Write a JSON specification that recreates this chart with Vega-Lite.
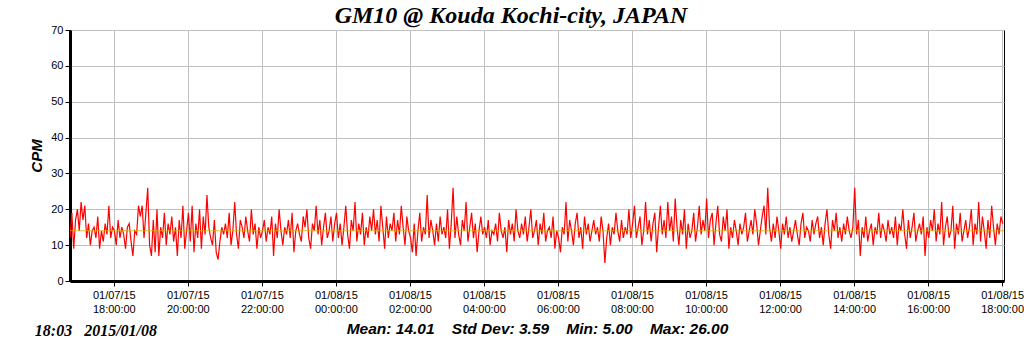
{
  "$schema": "https://vega.github.io/schema/vega-lite/v6.json",
  "width": 934,
  "height": 251,
  "autosize": {"type": "none"},
  "padding": {"left": 70, "top": 30, "right": 20, "bottom": 70},
  "background": "white",
  "config": {
    "view": {"stroke": "black", "strokeWidth": 1},
    "axis": {"labelFont": "Liberation Sans", "labelFontSize": 11, "labelColor": "black", "titleFont": "Liberation Sans", "titleFontStyle": "italic", "titleFontWeight": "bold", "titleColor": "black", "grid": true, "gridColor": "#c0c0c0", "gridWidth": 1, "domainColor": "black", "domainWidth": 3, "tickColor": "black", "tickSize": 5, "tickWidth": 1, "labelOverlap": false}
  },
  "title": {"text": "GM10 @ Kouda Kochi-city, JAPAN", "font": "Liberation Serif", "fontSize": 24, "fontStyle": "italic", "fontWeight": "bold", "color": "black", "anchor": "middle", "dx": -26, "offset": -4},
  "layer": [
    {"data": {"values": [
{"t":"2015-01-07T16:49","v":12},{"t":"2015-01-07T16:52","v":19},{"t":"2015-01-07T16:55","v":9},{"t":"2015-01-07T16:58","v":17},
{"t":"2015-01-07T17:01","v":20},{"t":"2015-01-07T17:04","v":14},{"t":"2015-01-07T17:07","v":22},{"t":"2015-01-07T17:10","v":17},{"t":"2015-01-07T17:13","v":21},{"t":"2015-01-07T17:16","v":12},{"t":"2015-01-07T17:19","v":16},{"t":"2015-01-07T17:22","v":10},{"t":"2015-01-07T17:25","v":14},{"t":"2015-01-07T17:28","v":15},{"t":"2015-01-07T17:31","v":12},{"t":"2015-01-07T17:34","v":18},{"t":"2015-01-07T17:37","v":9},{"t":"2015-01-07T17:40","v":14},{"t":"2015-01-07T17:43","v":11},{"t":"2015-01-07T17:46","v":16},{"t":"2015-01-07T17:49","v":13},{"t":"2015-01-07T17:52","v":21},{"t":"2015-01-07T17:55","v":12},{"t":"2015-01-07T17:58","v":15},
{"t":"2015-01-07T18:01","v":14},{"t":"2015-01-07T18:04","v":10},{"t":"2015-01-07T18:07","v":17},{"t":"2015-01-07T18:10","v":12},{"t":"2015-01-07T18:13","v":15},{"t":"2015-01-07T18:16","v":13},{"t":"2015-01-07T18:19","v":9},{"t":"2015-01-07T18:22","v":15},{"t":"2015-01-07T18:25","v":16},{"t":"2015-01-07T18:28","v":11},{"t":"2015-01-07T18:31","v":7},{"t":"2015-01-07T18:34","v":14},{"t":"2015-01-07T18:37","v":13},{"t":"2015-01-07T18:40","v":21},{"t":"2015-01-07T18:43","v":18},{"t":"2015-01-07T18:46","v":21},{"t":"2015-01-07T18:49","v":12},{"t":"2015-01-07T18:52","v":19},{"t":"2015-01-07T18:55","v":26},{"t":"2015-01-07T18:58","v":10},
{"t":"2015-01-07T19:01","v":7},{"t":"2015-01-07T19:04","v":17},{"t":"2015-01-07T19:07","v":8},{"t":"2015-01-07T19:10","v":20},{"t":"2015-01-07T19:13","v":7},{"t":"2015-01-07T19:16","v":15},{"t":"2015-01-07T19:19","v":12},{"t":"2015-01-07T19:22","v":19},{"t":"2015-01-07T19:25","v":10},{"t":"2015-01-07T19:28","v":16},{"t":"2015-01-07T19:31","v":13},{"t":"2015-01-07T19:34","v":18},{"t":"2015-01-07T19:37","v":11},{"t":"2015-01-07T19:40","v":15},{"t":"2015-01-07T19:43","v":7},{"t":"2015-01-07T19:46","v":17},{"t":"2015-01-07T19:49","v":12},{"t":"2015-01-07T19:52","v":21},{"t":"2015-01-07T19:55","v":9},{"t":"2015-01-07T19:58","v":14},
{"t":"2015-01-07T20:01","v":19},{"t":"2015-01-07T20:04","v":11},{"t":"2015-01-07T20:07","v":21},{"t":"2015-01-07T20:10","v":8},{"t":"2015-01-07T20:13","v":16},{"t":"2015-01-07T20:16","v":12},{"t":"2015-01-07T20:19","v":20},{"t":"2015-01-07T20:22","v":9},{"t":"2015-01-07T20:25","v":18},{"t":"2015-01-07T20:28","v":13},{"t":"2015-01-07T20:31","v":24},{"t":"2015-01-07T20:34","v":15},{"t":"2015-01-07T20:37","v":12},{"t":"2015-01-07T20:40","v":10},{"t":"2015-01-07T20:43","v":17},{"t":"2015-01-07T20:46","v":8},{"t":"2015-01-07T20:49","v":6},{"t":"2015-01-07T20:52","v":11},{"t":"2015-01-07T20:55","v":15},{"t":"2015-01-07T20:58","v":13},
{"t":"2015-01-07T21:01","v":16},{"t":"2015-01-07T21:04","v":12},{"t":"2015-01-07T21:07","v":19},{"t":"2015-01-07T21:10","v":10},{"t":"2015-01-07T21:13","v":14},{"t":"2015-01-07T21:16","v":22},{"t":"2015-01-07T21:19","v":13},{"t":"2015-01-07T21:22","v":9},{"t":"2015-01-07T21:25","v":17},{"t":"2015-01-07T21:28","v":15},{"t":"2015-01-07T21:31","v":12},{"t":"2015-01-07T21:34","v":18},{"t":"2015-01-07T21:37","v":14},{"t":"2015-01-07T21:40","v":11},{"t":"2015-01-07T21:43","v":20},{"t":"2015-01-07T21:46","v":13},{"t":"2015-01-07T21:49","v":16},{"t":"2015-01-07T21:52","v":9},{"t":"2015-01-07T21:55","v":15},{"t":"2015-01-07T21:58","v":12},
{"t":"2015-01-07T22:01","v":14},{"t":"2015-01-07T22:04","v":17},{"t":"2015-01-07T22:07","v":11},{"t":"2015-01-07T22:10","v":15},{"t":"2015-01-07T22:13","v":13},{"t":"2015-01-07T22:16","v":18},{"t":"2015-01-07T22:19","v":7},{"t":"2015-01-07T22:22","v":16},{"t":"2015-01-07T22:25","v":12},{"t":"2015-01-07T22:28","v":20},{"t":"2015-01-07T22:31","v":14},{"t":"2015-01-07T22:34","v":10},{"t":"2015-01-07T22:37","v":15},{"t":"2015-01-07T22:40","v":13},{"t":"2015-01-07T22:43","v":17},{"t":"2015-01-07T22:46","v":12},{"t":"2015-01-07T22:49","v":19},{"t":"2015-01-07T22:52","v":8},{"t":"2015-01-07T22:55","v":14},{"t":"2015-01-07T22:58","v":16},
{"t":"2015-01-07T23:01","v":13},{"t":"2015-01-07T23:04","v":11},{"t":"2015-01-07T23:07","v":18},{"t":"2015-01-07T23:10","v":15},{"t":"2015-01-07T23:13","v":20},{"t":"2015-01-07T23:16","v":12},{"t":"2015-01-07T23:19","v":9},{"t":"2015-01-07T23:22","v":16},{"t":"2015-01-07T23:25","v":14},{"t":"2015-01-07T23:28","v":21},{"t":"2015-01-07T23:31","v":13},{"t":"2015-01-07T23:34","v":17},{"t":"2015-01-07T23:37","v":10},{"t":"2015-01-07T23:40","v":15},{"t":"2015-01-07T23:43","v":19},{"t":"2015-01-07T23:46","v":12},{"t":"2015-01-07T23:49","v":14},{"t":"2015-01-07T23:52","v":18},{"t":"2015-01-07T23:55","v":11},{"t":"2015-01-07T23:58","v":16},
{"t":"2015-01-08T00:01","v":19},{"t":"2015-01-08T00:04","v":12},{"t":"2015-01-08T00:07","v":16},{"t":"2015-01-08T00:10","v":10},{"t":"2015-01-08T00:13","v":15},{"t":"2015-01-08T00:16","v":21},{"t":"2015-01-08T00:19","v":13},{"t":"2015-01-08T00:22","v":9},{"t":"2015-01-08T00:25","v":17},{"t":"2015-01-08T00:28","v":14},{"t":"2015-01-08T00:31","v":22},{"t":"2015-01-08T00:34","v":11},{"t":"2015-01-08T00:37","v":16},{"t":"2015-01-08T00:40","v":13},{"t":"2015-01-08T00:43","v":19},{"t":"2015-01-08T00:46","v":10},{"t":"2015-01-08T00:49","v":15},{"t":"2015-01-08T00:52","v":12},{"t":"2015-01-08T00:55","v":18},{"t":"2015-01-08T00:58","v":14},
{"t":"2015-01-08T01:01","v":20},{"t":"2015-01-08T01:04","v":13},{"t":"2015-01-08T01:07","v":17},{"t":"2015-01-08T01:10","v":11},{"t":"2015-01-08T01:13","v":21},{"t":"2015-01-08T01:16","v":15},{"t":"2015-01-08T01:19","v":9},{"t":"2015-01-08T01:22","v":18},{"t":"2015-01-08T01:25","v":12},{"t":"2015-01-08T01:28","v":16},{"t":"2015-01-08T01:31","v":14},{"t":"2015-01-08T01:34","v":19},{"t":"2015-01-08T01:37","v":11},{"t":"2015-01-08T01:40","v":17},{"t":"2015-01-08T01:43","v":13},{"t":"2015-01-08T01:46","v":21},{"t":"2015-01-08T01:49","v":15},{"t":"2015-01-08T01:52","v":10},{"t":"2015-01-08T01:55","v":18},{"t":"2015-01-08T01:58","v":14},
{"t":"2015-01-08T02:01","v":12},{"t":"2015-01-08T02:04","v":8},{"t":"2015-01-08T02:07","v":16},{"t":"2015-01-08T02:10","v":7},{"t":"2015-01-08T02:13","v":14},{"t":"2015-01-08T02:16","v":19},{"t":"2015-01-08T02:19","v":11},{"t":"2015-01-08T02:22","v":15},{"t":"2015-01-08T02:25","v":13},{"t":"2015-01-08T02:28","v":24},{"t":"2015-01-08T02:31","v":12},{"t":"2015-01-08T02:34","v":17},{"t":"2015-01-08T02:37","v":14},{"t":"2015-01-08T02:40","v":10},{"t":"2015-01-08T02:43","v":16},{"t":"2015-01-08T02:46","v":11},{"t":"2015-01-08T02:49","v":18},{"t":"2015-01-08T02:52","v":13},{"t":"2015-01-08T02:55","v":15},{"t":"2015-01-08T02:58","v":12},
{"t":"2015-01-08T03:01","v":20},{"t":"2015-01-08T03:04","v":9},{"t":"2015-01-08T03:07","v":16},{"t":"2015-01-08T03:10","v":26},{"t":"2015-01-08T03:13","v":12},{"t":"2015-01-08T03:16","v":18},{"t":"2015-01-08T03:19","v":13},{"t":"2015-01-08T03:22","v":10},{"t":"2015-01-08T03:25","v":17},{"t":"2015-01-08T03:28","v":14},{"t":"2015-01-08T03:31","v":22},{"t":"2015-01-08T03:34","v":11},{"t":"2015-01-08T03:37","v":15},{"t":"2015-01-08T03:40","v":19},{"t":"2015-01-08T03:43","v":12},{"t":"2015-01-08T03:46","v":16},{"t":"2015-01-08T03:49","v":8},{"t":"2015-01-08T03:52","v":14},{"t":"2015-01-08T03:55","v":18},{"t":"2015-01-08T03:58","v":13},
{"t":"2015-01-08T04:01","v":15},{"t":"2015-01-08T04:04","v":12},{"t":"2015-01-08T04:07","v":17},{"t":"2015-01-08T04:10","v":10},{"t":"2015-01-08T04:13","v":14},{"t":"2015-01-08T04:16","v":13},{"t":"2015-01-08T04:19","v":16},{"t":"2015-01-08T04:22","v":11},{"t":"2015-01-08T04:25","v":19},{"t":"2015-01-08T04:28","v":14},{"t":"2015-01-08T04:31","v":12},{"t":"2015-01-08T04:34","v":15},{"t":"2015-01-08T04:37","v":8},{"t":"2015-01-08T04:40","v":17},{"t":"2015-01-08T04:43","v":13},{"t":"2015-01-08T04:46","v":16},{"t":"2015-01-08T04:49","v":11},{"t":"2015-01-08T04:52","v":20},{"t":"2015-01-08T04:55","v":14},{"t":"2015-01-08T04:58","v":12},
{"t":"2015-01-08T05:01","v":16},{"t":"2015-01-08T05:04","v":13},{"t":"2015-01-08T05:07","v":18},{"t":"2015-01-08T05:10","v":11},{"t":"2015-01-08T05:13","v":15},{"t":"2015-01-08T05:16","v":20},{"t":"2015-01-08T05:19","v":12},{"t":"2015-01-08T05:22","v":14},{"t":"2015-01-08T05:25","v":17},{"t":"2015-01-08T05:28","v":10},{"t":"2015-01-08T05:31","v":16},{"t":"2015-01-08T05:34","v":13},{"t":"2015-01-08T05:37","v":19},{"t":"2015-01-08T05:40","v":11},{"t":"2015-01-08T05:43","v":14},{"t":"2015-01-08T05:46","v":15},{"t":"2015-01-08T05:49","v":12},{"t":"2015-01-08T05:52","v":18},{"t":"2015-01-08T05:55","v":9},{"t":"2015-01-08T05:58","v":14},
{"t":"2015-01-08T06:01","v":12},{"t":"2015-01-08T06:04","v":8},{"t":"2015-01-08T06:07","v":15},{"t":"2015-01-08T06:10","v":13},{"t":"2015-01-08T06:13","v":22},{"t":"2015-01-08T06:16","v":11},{"t":"2015-01-08T06:19","v":17},{"t":"2015-01-08T06:22","v":14},{"t":"2015-01-08T06:25","v":10},{"t":"2015-01-08T06:28","v":16},{"t":"2015-01-08T06:31","v":19},{"t":"2015-01-08T06:34","v":12},{"t":"2015-01-08T06:37","v":15},{"t":"2015-01-08T06:40","v":9},{"t":"2015-01-08T06:43","v":18},{"t":"2015-01-08T06:46","v":13},{"t":"2015-01-08T06:49","v":16},{"t":"2015-01-08T06:52","v":11},{"t":"2015-01-08T06:55","v":14},{"t":"2015-01-08T06:58","v":17},
{"t":"2015-01-08T07:01","v":13},{"t":"2015-01-08T07:04","v":15},{"t":"2015-01-08T07:07","v":11},{"t":"2015-01-08T07:10","v":18},{"t":"2015-01-08T07:13","v":14},{"t":"2015-01-08T07:16","v":5},{"t":"2015-01-08T07:19","v":12},{"t":"2015-01-08T07:22","v":16},{"t":"2015-01-08T07:25","v":10},{"t":"2015-01-08T07:28","v":15},{"t":"2015-01-08T07:31","v":13},{"t":"2015-01-08T07:34","v":19},{"t":"2015-01-08T07:37","v":14},{"t":"2015-01-08T07:40","v":11},{"t":"2015-01-08T07:43","v":17},{"t":"2015-01-08T07:46","v":12},{"t":"2015-01-08T07:49","v":15},{"t":"2015-01-08T07:52","v":13},{"t":"2015-01-08T07:55","v":20},{"t":"2015-01-08T07:58","v":12},
{"t":"2015-01-08T08:01","v":16},{"t":"2015-01-08T08:04","v":21},{"t":"2015-01-08T08:07","v":12},{"t":"2015-01-08T08:10","v":15},{"t":"2015-01-08T08:13","v":18},{"t":"2015-01-08T08:16","v":10},{"t":"2015-01-08T08:19","v":14},{"t":"2015-01-08T08:22","v":22},{"t":"2015-01-08T08:25","v":13},{"t":"2015-01-08T08:28","v":17},{"t":"2015-01-08T08:31","v":11},{"t":"2015-01-08T08:34","v":16},{"t":"2015-01-08T08:37","v":19},{"t":"2015-01-08T08:40","v":8},{"t":"2015-01-08T08:43","v":15},{"t":"2015-01-08T08:46","v":21},{"t":"2015-01-08T08:49","v":13},{"t":"2015-01-08T08:52","v":17},{"t":"2015-01-08T08:55","v":12},{"t":"2015-01-08T08:58","v":22},
{"t":"2015-01-08T09:01","v":14},{"t":"2015-01-08T09:04","v":18},{"t":"2015-01-08T09:07","v":11},{"t":"2015-01-08T09:10","v":23},{"t":"2015-01-08T09:13","v":15},{"t":"2015-01-08T09:16","v":10},{"t":"2015-01-08T09:19","v":17},{"t":"2015-01-08T09:22","v":13},{"t":"2015-01-08T09:25","v":20},{"t":"2015-01-08T09:28","v":9},{"t":"2015-01-08T09:31","v":16},{"t":"2015-01-08T09:34","v":12},{"t":"2015-01-08T09:37","v":14},{"t":"2015-01-08T09:40","v":19},{"t":"2015-01-08T09:43","v":11},{"t":"2015-01-08T09:46","v":15},{"t":"2015-01-08T09:49","v":21},{"t":"2015-01-08T09:52","v":13},{"t":"2015-01-08T09:55","v":17},{"t":"2015-01-08T09:58","v":14},
{"t":"2015-01-08T10:01","v":23},{"t":"2015-01-08T10:04","v":12},{"t":"2015-01-08T10:07","v":17},{"t":"2015-01-08T10:10","v":19},{"t":"2015-01-08T10:13","v":10},{"t":"2015-01-08T10:16","v":16},{"t":"2015-01-08T10:19","v":21},{"t":"2015-01-08T10:22","v":13},{"t":"2015-01-08T10:25","v":11},{"t":"2015-01-08T10:28","v":18},{"t":"2015-01-08T10:31","v":14},{"t":"2015-01-08T10:34","v":20},{"t":"2015-01-08T10:37","v":9},{"t":"2015-01-08T10:40","v":15},{"t":"2015-01-08T10:43","v":12},{"t":"2015-01-08T10:46","v":17},{"t":"2015-01-08T10:49","v":14},{"t":"2015-01-08T10:52","v":10},{"t":"2015-01-08T10:55","v":16},{"t":"2015-01-08T10:58","v":13},
{"t":"2015-01-08T11:01","v":15},{"t":"2015-01-08T11:04","v":19},{"t":"2015-01-08T11:07","v":11},{"t":"2015-01-08T11:10","v":14},{"t":"2015-01-08T11:13","v":17},{"t":"2015-01-08T11:16","v":13},{"t":"2015-01-08T11:19","v":20},{"t":"2015-01-08T11:22","v":16},{"t":"2015-01-08T11:25","v":10},{"t":"2015-01-08T11:28","v":14},{"t":"2015-01-08T11:31","v":18},{"t":"2015-01-08T11:34","v":21},{"t":"2015-01-08T11:37","v":13},{"t":"2015-01-08T11:40","v":26},{"t":"2015-01-08T11:43","v":15},{"t":"2015-01-08T11:46","v":11},{"t":"2015-01-08T11:49","v":16},{"t":"2015-01-08T11:52","v":12},{"t":"2015-01-08T11:55","v":18},{"t":"2015-01-08T11:58","v":14},
{"t":"2015-01-08T12:01","v":9},{"t":"2015-01-08T12:04","v":16},{"t":"2015-01-08T12:07","v":13},{"t":"2015-01-08T12:10","v":18},{"t":"2015-01-08T12:13","v":12},{"t":"2015-01-08T12:16","v":15},{"t":"2015-01-08T12:19","v":11},{"t":"2015-01-08T12:22","v":14},{"t":"2015-01-08T12:25","v":17},{"t":"2015-01-08T12:28","v":13},{"t":"2015-01-08T12:31","v":10},{"t":"2015-01-08T12:34","v":16},{"t":"2015-01-08T12:37","v":19},{"t":"2015-01-08T12:40","v":12},{"t":"2015-01-08T12:43","v":15},{"t":"2015-01-08T12:46","v":14},{"t":"2015-01-08T12:49","v":11},{"t":"2015-01-08T12:52","v":17},{"t":"2015-01-08T12:55","v":13},{"t":"2015-01-08T12:58","v":16},
{"t":"2015-01-08T13:01","v":18},{"t":"2015-01-08T13:04","v":12},{"t":"2015-01-08T13:07","v":15},{"t":"2015-01-08T13:10","v":10},{"t":"2015-01-08T13:13","v":16},{"t":"2015-01-08T13:16","v":20},{"t":"2015-01-08T13:19","v":13},{"t":"2015-01-08T13:22","v":9},{"t":"2015-01-08T13:25","v":17},{"t":"2015-01-08T13:28","v":14},{"t":"2015-01-08T13:31","v":19},{"t":"2015-01-08T13:34","v":12},{"t":"2015-01-08T13:37","v":15},{"t":"2015-01-08T13:40","v":11},{"t":"2015-01-08T13:43","v":16},{"t":"2015-01-08T13:46","v":13},{"t":"2015-01-08T13:49","v":18},{"t":"2015-01-08T13:52","v":14},{"t":"2015-01-08T13:55","v":12},{"t":"2015-01-08T13:58","v":15},
{"t":"2015-01-08T14:01","v":26},{"t":"2015-01-08T14:04","v":13},{"t":"2015-01-08T14:07","v":17},{"t":"2015-01-08T14:10","v":7},{"t":"2015-01-08T14:13","v":15},{"t":"2015-01-08T14:16","v":12},{"t":"2015-01-08T14:19","v":18},{"t":"2015-01-08T14:22","v":11},{"t":"2015-01-08T14:25","v":14},{"t":"2015-01-08T14:28","v":16},{"t":"2015-01-08T14:31","v":10},{"t":"2015-01-08T14:34","v":15},{"t":"2015-01-08T14:37","v":13},{"t":"2015-01-08T14:40","v":19},{"t":"2015-01-08T14:43","v":12},{"t":"2015-01-08T14:46","v":16},{"t":"2015-01-08T14:49","v":14},{"t":"2015-01-08T14:52","v":11},{"t":"2015-01-08T14:55","v":17},{"t":"2015-01-08T14:58","v":13},
{"t":"2015-01-08T15:01","v":15},{"t":"2015-01-08T15:04","v":12},{"t":"2015-01-08T15:07","v":18},{"t":"2015-01-08T15:10","v":10},{"t":"2015-01-08T15:13","v":16},{"t":"2015-01-08T15:16","v":14},{"t":"2015-01-08T15:19","v":20},{"t":"2015-01-08T15:22","v":13},{"t":"2015-01-08T15:25","v":9},{"t":"2015-01-08T15:28","v":17},{"t":"2015-01-08T15:31","v":12},{"t":"2015-01-08T15:34","v":15},{"t":"2015-01-08T15:37","v":19},{"t":"2015-01-08T15:40","v":11},{"t":"2015-01-08T15:43","v":14},{"t":"2015-01-08T15:46","v":16},{"t":"2015-01-08T15:49","v":13},{"t":"2015-01-08T15:52","v":18},{"t":"2015-01-08T15:55","v":7},{"t":"2015-01-08T15:58","v":15},
{"t":"2015-01-08T16:01","v":12},{"t":"2015-01-08T16:04","v":17},{"t":"2015-01-08T16:07","v":14},{"t":"2015-01-08T16:10","v":20},{"t":"2015-01-08T16:13","v":11},{"t":"2015-01-08T16:16","v":16},{"t":"2015-01-08T16:19","v":13},{"t":"2015-01-08T16:22","v":22},{"t":"2015-01-08T16:25","v":10},{"t":"2015-01-08T16:28","v":15},{"t":"2015-01-08T16:31","v":18},{"t":"2015-01-08T16:34","v":12},{"t":"2015-01-08T16:37","v":14},{"t":"2015-01-08T16:40","v":21},{"t":"2015-01-08T16:43","v":9},{"t":"2015-01-08T16:46","v":16},{"t":"2015-01-08T16:49","v":13},{"t":"2015-01-08T16:52","v":19},{"t":"2015-01-08T16:55","v":11},{"t":"2015-01-08T16:58","v":14},
{"t":"2015-01-08T17:01","v":17},{"t":"2015-01-08T17:04","v":12},{"t":"2015-01-08T17:07","v":15},{"t":"2015-01-08T17:10","v":20},{"t":"2015-01-08T17:13","v":10},{"t":"2015-01-08T17:16","v":16},{"t":"2015-01-08T17:19","v":13},{"t":"2015-01-08T17:22","v":22},{"t":"2015-01-08T17:25","v":11},{"t":"2015-01-08T17:28","v":18},{"t":"2015-01-08T17:31","v":14},{"t":"2015-01-08T17:34","v":9},{"t":"2015-01-08T17:37","v":17},{"t":"2015-01-08T17:40","v":12},{"t":"2015-01-08T17:43","v":21},{"t":"2015-01-08T17:46","v":15},{"t":"2015-01-08T17:49","v":10},{"t":"2015-01-08T17:52","v":16},{"t":"2015-01-08T17:55","v":13},{"t":"2015-01-08T17:58","v":18},
{"t":"2015-01-08T18:01","v":16}
     ]},
     "mark": {"type": "line", "color": "#ff0000", "strokeWidth": 1.2, "clip": true},
     "encoding": {
      "x": {
        "field": "t", "type": "temporal",
        "scale": {"domain": [{"year": 2015, "month": 1, "date": 7, "hours": 16, "minutes": 49}, {"year": 2015, "month": 1, "date": 8, "hours": 18, "minutes": 3}]},
        "axis": {
          "title": "Mean: 14.01\u00a0\u00a0\u00a0\u00a0Std Dev: 3.59\u00a0\u00a0\u00a0\u00a0Min: 5.00\u00a0\u00a0\u00a0\u00a0Max: 26.00",
          "titleFontSize": 15.5, "titlePadding": 7,
          "values": [
            {"year": 2015, "month": 1, "date": 7, "hours": 18},
            {"year": 2015, "month": 1, "date": 7, "hours": 20},
            {"year": 2015, "month": 1, "date": 7, "hours": 22},
            {"year": 2015, "month": 1, "date": 8, "hours": 0},
            {"year": 2015, "month": 1, "date": 8, "hours": 2},
            {"year": 2015, "month": 1, "date": 8, "hours": 4},
            {"year": 2015, "month": 1, "date": 8, "hours": 6},
            {"year": 2015, "month": 1, "date": 8, "hours": 8},
            {"year": 2015, "month": 1, "date": 8, "hours": 10},
            {"year": 2015, "month": 1, "date": 8, "hours": 12},
            {"year": 2015, "month": 1, "date": 8, "hours": 14},
            {"year": 2015, "month": 1, "date": 8, "hours": 16},
            {"year": 2015, "month": 1, "date": 8, "hours": 18}
          ],
          "labelExpr": "[timeFormat(datum.value, '%m/%d/%y'), timeFormat(datum.value, '%H:%M:%S')]",
          "labelLineHeight": 14, "labelPadding": 3, "labelFlush": false
        }
      },
      "y": {
        "field": "v", "type": "quantitative",
        "scale": {"domain": [0, 70], "nice": false},
        "axis": {"title": "CPM", "titleFontSize": 15, "titlePadding": 6, "values": [0, 10, 20, 30, 40, 50, 60, 70], "labelPadding": 2}
      }
     }},
    {"data": {"values": [{"mean": 14.01}]},
     "mark": {"type": "rule", "color": "#d2b400", "strokeWidth": 1, "opacity": 0.8},
     "encoding": {"y": {"field": "mean", "type": "quantitative", "axis": {"title": "CPM", "titleFontSize": 15, "titlePadding": 6, "values": [0, 10, 20, 30, 40, 50, 60, 70], "labelPadding": 2}}}},
    {"data": {"values": [{"label": "18:03\u00a0\u00a0\u00a02015/01/08"}]},
     "mark": {"type": "text", "font": "Liberation Serif", "fontSize": 16, "fontStyle": "italic", "fontWeight": "bold", "color": "black", "align": "left", "baseline": "middle"},
     "encoding": {
       "x": {"datum": {"year": 2015, "month": 1, "date": 7, "hours": 15, "minutes": 52}, "type": "temporal"},
       "y": {"datum": -14, "type": "quantitative", "axis": {"title": "CPM", "titleFontSize": 15, "titlePadding": 6, "values": [0, 10, 20, 30, 40, 50, 60, 70], "labelPadding": 2}},
       "text": {"field": "label"}}}
  ]
}
